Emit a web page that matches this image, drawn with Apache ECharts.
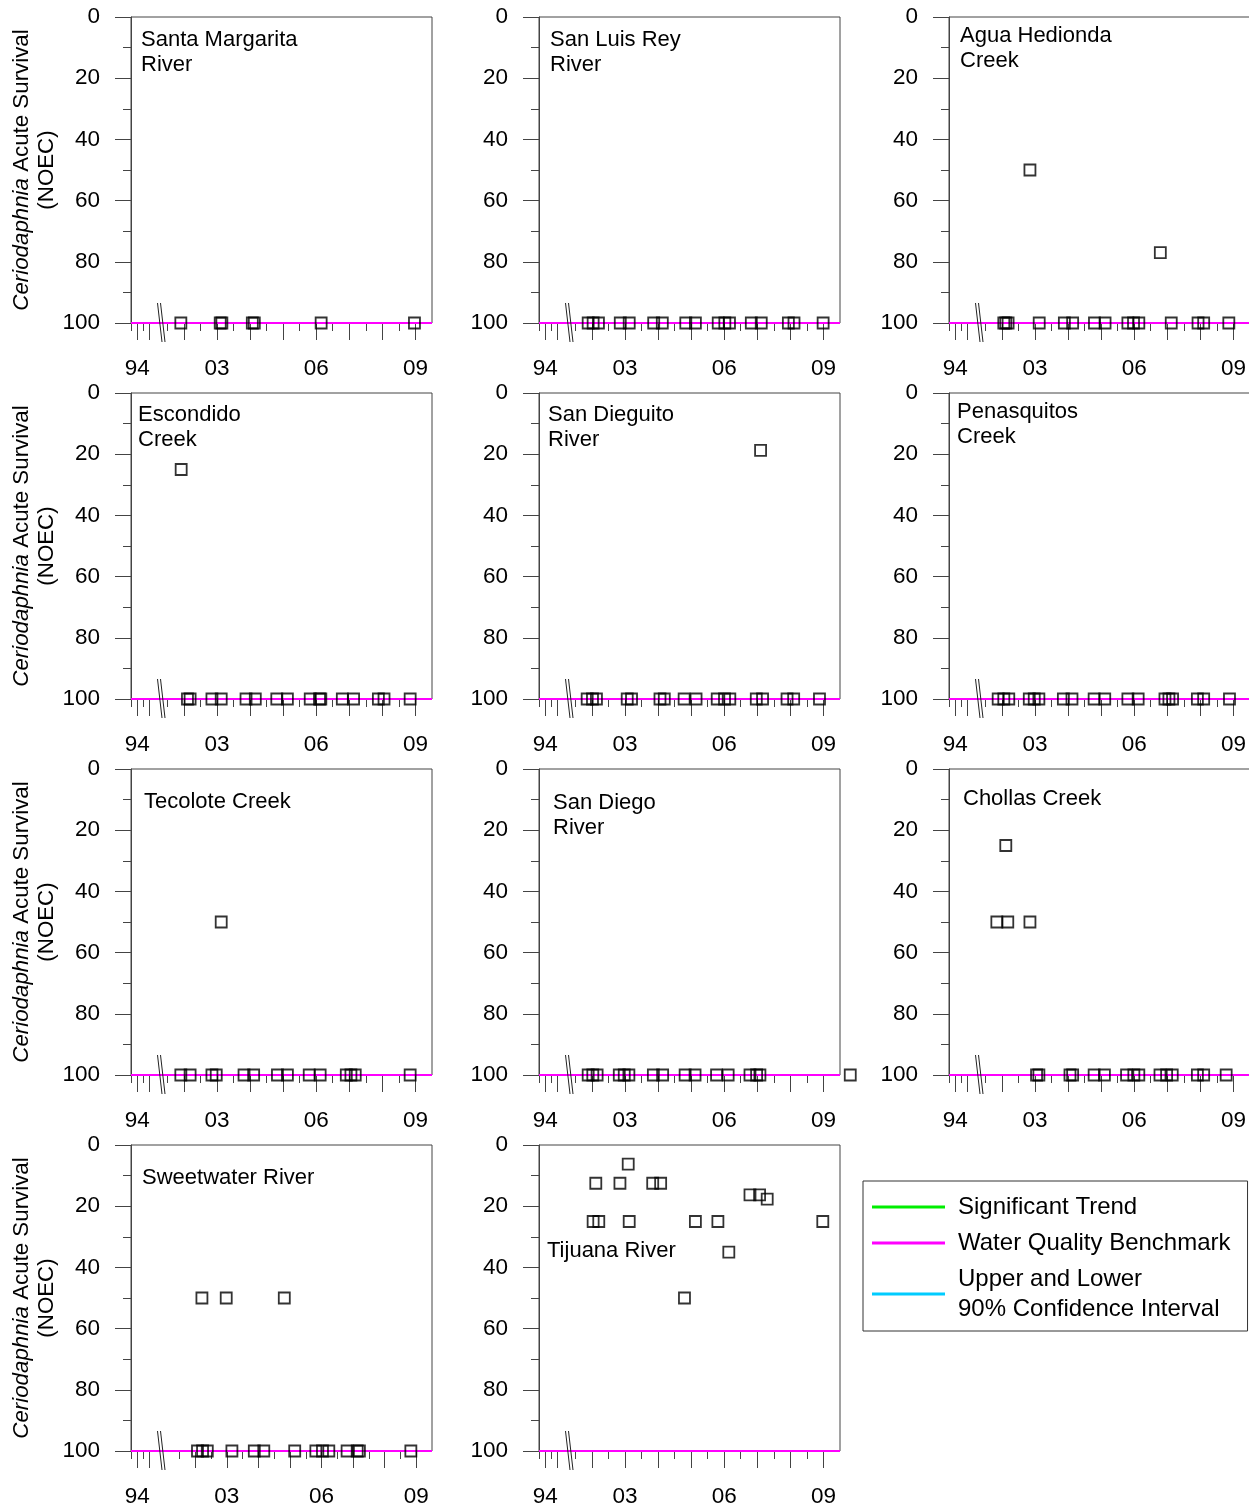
<!DOCTYPE html>
<html>
<head>
<meta charset="utf-8">
<script src="https://cdn.jsdelivr.net/npm/echarts@6/dist/echarts.min.js"></script>
<style>
html,body{margin:0;padding:0;background:#fff;}
#chart{width:1249px;height:1509px;}
</style>
</head>
<body>
<div id="chart"></div>
<script>
// ---------------- data ----------------
const panelNames = [
  'Santa Margarita\nRiver', 'San Luis Rey\nRiver', 'Agua Hedionda\nCreek',
  'Escondido\nCreek', 'San Dieguito\nRiver', 'Penasquitos\nCreek',
  'Tecolote Creek', 'San Diego\nRiver', 'Chollas Creek',
  'Sweetwater River', 'Tijuana River'
];

const santaMargarita = [[2001.91,100],[2003.10,100],[2003.15,100],[2004.07,100],[2004.13,100],[2006.15,100],[2008.97,100]];
const sanLuisRey = [[2001.89,100],[2002.04,100],[2002.20,100],[2002.86,100],[2003.13,100],[2003.87,100],[2004.13,100],[2004.84,100],[2005.13,100],[2005.82,100],[2006.02,100],[2006.16,100],[2006.82,100],[2007.12,100],[2007.94,100],[2008.11,100],[2008.99,100]];
const aguaHedionda = [[2002.06,100],[2002.12,100],[2002.19,100],[2002.85,50],[2003.13,100],[2003.89,100],[2004.14,100],[2004.80,100],[2005.12,100],[2005.81,100],[2005.98,100],[2006.14,100],[2006.79,77],[2007.12,100],[2007.93,100],[2008.10,100],[2008.86,100]];
const escondido = [[2001.92,25],[2002.11,100],[2002.19,100],[2002.85,100],[2003.13,100],[2003.88,100],[2004.16,100],[2004.81,100],[2005.13,100],[2005.82,100],[2006.10,100],[2006.14,100],[2006.79,100],[2007.13,100],[2007.88,100],[2008.05,100],[2008.84,100]];
const sanDieguito = [[2001.86,100],[2002.02,100],[2002.14,100],[2003.07,100],[2003.20,100],[2004.06,100],[2004.19,100],[2004.79,100],[2005.15,100],[2005.79,100],[2006.01,100],[2006.17,100],[2006.97,100],[2007.10,18.75],[2007.16,100],[2007.90,100],[2008.10,100],[2008.88,100]];
const penasquitos = [[2001.89,100],[2002.06,100],[2002.21,100],[2002.83,100],[2002.98,100],[2003.12,100],[2003.86,100],[2004.12,100],[2004.79,100],[2005.11,100],[2005.81,100],[2006.12,100],[2006.93,100],[2007.05,100],[2007.16,100],[2007.91,100],[2008.10,100],[2008.88,100]];
const tecolote = [[2001.91,100],[2002.19,100],[2002.85,100],[2002.98,100],[2003.13,50],[2003.82,100],[2004.11,100],[2004.83,100],[2005.13,100],[2005.79,100],[2006.12,100],[2006.91,100],[2007.05,100],[2007.18,100],[2008.84,100]];
const sanDiegoRiver = [[2001.89,100],[2002.03,100],[2002.16,100],[2002.83,100],[2002.98,100],[2003.12,100],[2003.86,100],[2004.14,100],[2004.82,100],[2005.12,100],[2005.77,100],[2006.12,100],[2006.78,100],[2006.98,100],[2007.08,100],[2009.81,100]];
const chollas = [[2001.85,50],[2002.12,25],[2002.18,50],[2002.85,50],[2003.05,100],[2003.12,100],[2004.06,100],[2004.14,100],[2004.79,100],[2005.10,100],[2005.77,100],[2005.99,100],[2006.14,100],[2006.78,100],[2006.98,100],[2007.15,100],[2007.91,100],[2008.10,100],[2008.78,100]];
const sweetwater = [[2002.07,100],[2002.21,50],[2002.23,100],[2002.38,100],[2002.98,50],[2003.16,100],[2003.87,100],[2004.17,100],[2004.82,50],[2005.15,100],[2005.82,100],[2006.03,100],[2006.23,100],[2006.81,100],[2007.13,100],[2007.20,100],[2008.83,100]];
const tijuana = [[2002.04,25],[2002.12,12.5],[2002.21,25],[2002.85,12.5],[2003.10,6.25],[2003.13,25],[2003.84,12.5],[2004.08,12.5],[2004.80,50],[2005.13,25],[2005.81,25],[2006.14,35],[2006.78,16.3],[2007.07,16.3],[2007.30,17.7],[2008.98,25]];

const panelData = [santaMargarita, sanLuisRey, aguaHedionda, escondido, sanDieguito, penasquitos,
  tecolote, sanDiegoRiver, chollas, sweetwater, tijuana];

// axis ranges and ticks
const preRange = [1993.5, 1995.78];
const postRange = [2001.25, 2009.5];
const postRangeSweetwater = [2000.85, 2009.5];
const preMajorTicks = [1994, 1995];
const preMinorTicks = [1993.5, 1994.5];
const postMajorTicks = [2002, 2003, 2004, 2005, 2006, 2007, 2008, 2009];
const postMinorTicks = [2001.5, 2002.5, 2003.5, 2004.5, 2005.5, 2006.5, 2007.5, 2008.5];
const preLabelValues = [1994];
const postLabelValues = [2003, 2006, 2009];
const yRange = [0, 100];
const yInterval = 20;
const benchmark = 100;

const legendNames = ['Significant Trend', 'Water Quality Benchmark', 'Upper and Lower\n90% Confidence Interval'];

// ---------------- layout / style ----------------
const FONT = '"Liberation Sans", Arial, sans-serif';
const colLeft = [131, 539, 949];
const rowTop = [17, 393, 769, 1145];
const panelW = 301, panelH = 306, preW = 28;
const lineCol = '#444';
// title offsets [dx, first-line center dy]
const titleOffsets = [[10,23],[11,23],[11,19],[7,22],[9,22],[8,19],[13,33],[14,34],[14,30],[11,33],[8,106]];

const grids = [], xAxes = [], yAxes = [], series = [], titles = [];
const yearFmt = v => String(Math.round(v) % 100).padStart(2, '0');

function xAxisDef(gridIndex, range, ticks, tickLen, labels) {
  return {
    gridIndex, type: 'value', position: 'bottom', min: range[0], max: range[1],
    axisLine: {show: false, onZero: false}, splitLine: {show: false},
    axisTick: {show: true, customValues: ticks, length: tickLen, lineStyle: {color: lineCol, width: 1}},
    axisLabel: labels ? {show: true, customValues: labels, formatter: yearFmt, fontSize: 22.5, color: '#000', fontFamily: FONT, margin: 34}
                      : {show: false}
  };
}

panelNames.forEach((name, i) => {
  const col = i % 3, row = Math.floor(i / 3);
  const L = colLeft[col], T = rowTop[row];
  const post = (i === 9) ? postRangeSweetwater : postRange;

  const gF = grids.length;
  grids.push({left: L, top: T, width: panelW, height: panelH, show: true, borderColor: lineCol, borderWidth: 1,
    backgroundColor: 'transparent', outerBoundsMode: 'none', containLabel: false});
  const gPre = grids.length;
  grids.push({left: L, top: T, width: preW, height: panelH, outerBoundsMode: 'none', containLabel: false});
  const gPost = grids.length;
  grids.push({left: L + preW, top: T, width: panelW - preW, height: panelH, outerBoundsMode: 'none', containLabel: false});

  // frame axes
  const xF = xAxes.length;
  xAxes.push({gridIndex: gF, type: 'value', min: 0, max: 1, show: false, axisLine: {onZero: false}});
  const yF = yAxes.length;
  yAxes.push({
    gridIndex: gF, type: 'value', min: yRange[0], max: yRange[1], interval: yInterval, inverse: true,
    position: 'left',
    axisLine: {show: true, onZero: false, lineStyle: {color: lineCol, width: 1}},
    axisTick: {show: true, length: 16, lineStyle: {color: lineCol, width: 1}},
    minorTick: {show: true, splitNumber: 2, length: 8, lineStyle: {color: lineCol, width: 1}},
    splitLine: {show: false}, minorSplitLine: {show: false},
    axisLabel: {fontSize: 22.5, color: '#000', fontFamily: FONT, margin: 31},
    name: col === 0 ? '{i|Ceriodaphnia} Acute Survival\n(NOEC)' : '',
    nameLocation: 'middle', nameRotate: 90, nameGap: 71.5, nameMoveOverlap: false,
    nameTextStyle: {fontSize: 22.3, lineHeight: 25, color: '#000', fontFamily: FONT,
      rich: {i: {fontStyle: 'italic', fontSize: 22.3, lineHeight: 25, color: '#000', fontFamily: FONT}}}
  });

  // pre-break axes
  xAxes.push(xAxisDef(gPre, preRange, preMajorTicks, 17, preLabelValues));
  xAxes.push(xAxisDef(gPre, preRange, preMinorTicks, 8, null));
  yAxes.push({gridIndex: gPre, type: 'value', min: yRange[0], max: yRange[1], inverse: true, show: false});

  // post-break axes
  const xPost = xAxes.length;
  xAxes.push(xAxisDef(gPost, post, postMajorTicks, 17, postLabelValues));
  xAxes.push(xAxisDef(gPost, post, postMinorTicks, 8, null));
  const yPost = yAxes.length;
  yAxes.push({gridIndex: gPost, type: 'value', min: yRange[0], max: yRange[1], inverse: true, show: false});

  // benchmark line
  series.push({type: 'line', name: legendNames[1], xAxisIndex: xF, yAxisIndex: yF,
    data: [[0, benchmark], [1, benchmark]], symbol: 'none', silent: true, z: 3,
    color: '#ff00ff', lineStyle: {color: '#ff00ff', width: 2}});

  // axis break marks
  series.push({type: 'custom', xAxisIndex: xPost, yAxisIndex: yPost, silent: true, clip: false, z: 6,
    data: [[post[0], benchmark]],
    renderItem: (params, api) => {
      const p = api.coord([api.value(0), api.value(1)]);
      const st = {stroke: '#222', lineWidth: 1};
      return {type: 'group', children: [
        {type: 'line', shape: {x1: p[0] - 1.5, y1: p[1] - 20, x2: p[0] + 3, y2: p[1] + 19}, style: st},
        {type: 'line', shape: {x1: p[0] + 1.5, y1: p[1] - 20, x2: p[0] + 6, y2: p[1] + 19}, style: st}
      ]};
    }});

  // data
  series.push({type: 'scatter', xAxisIndex: xPost, yAxisIndex: yPost, data: panelData[i],
    symbol: 'rect', symbolSize: 11, clip: false, silent: true, z: 5,
    itemStyle: {color: 'rgba(0,0,0,0)', borderColor: '#000', borderWidth: 1.8}});

  const off = titleOffsets[i];
  titles.push({text: name, left: L + off[0], top: T + off[1] - 12.25, padding: 0,
    textStyle: {fontSize: 22, lineHeight: 24.5, fontWeight: 'normal', color: '#000', fontFamily: FONT}});
});

// legend-only series
series.push({type: 'line', name: legendNames[0], xAxisIndex: 0, yAxisIndex: 0, data: [],
  color: '#00ee00', lineStyle: {color: '#00ee00', width: 3}});
series.push({type: 'line', name: legendNames[2], xAxisIndex: 0, yAxisIndex: 0, data: [],
  color: '#00ccff', lineStyle: {color: '#00ccff', width: 3}});

const option = {
  backgroundColor: '#fff',
  animation: false,
  title: titles,
  grid: grids,
  xAxis: xAxes,
  yAxis: yAxes,
  legend: {
    left: 863, top: 1181, orient: 'vertical', selectedMode: false,
    data: legendNames.map(n => ({name: n, icon: 'rect'})),
    itemWidth: 73, itemHeight: 3, itemGap: 6,
    padding: [11, 17, 7, 9],
    borderColor: '#333', borderWidth: 1, backgroundColor: '#fff',
    textStyle: {fontSize: 24, lineHeight: 30, color: '#000', fontFamily: FONT, padding: [0, 0, 0, 8]}
  },
  series: series
};

const chart = echarts.init(document.getElementById('chart'), null, {renderer: 'canvas'});
chart.setOption(option);
</script>
</body>
</html>
